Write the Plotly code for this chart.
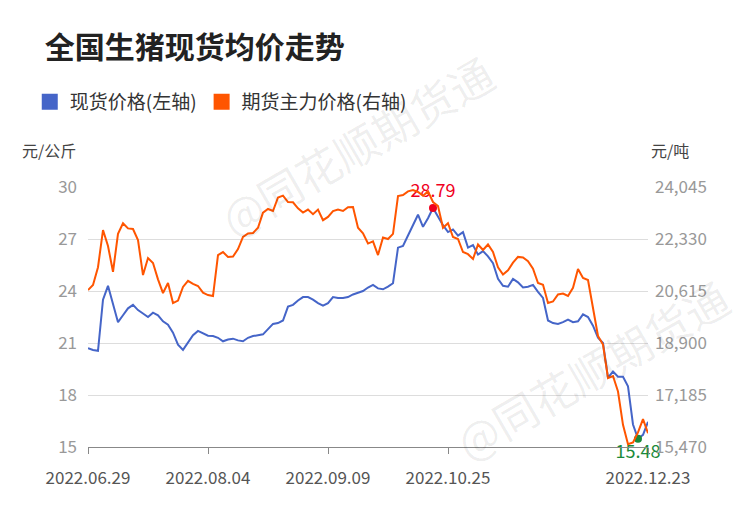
import plotly.graph_objects as go

tick_idx = [0, 24, 48, 72, 112]
tick_labels = ["2022.06.29", "2022.08.04", "2022.09.09", "2022.10.25", "2022.12.23"]

spot = [20.7, 20.6, 20.55, 23.5, 24.3, 23.2, 22.2, 22.6, 23.0, 23.2,
        22.9, 22.7, 22.5, 22.75, 22.6, 22.25, 22.05, 21.6, 20.9, 20.6,
        21.0, 21.45, 21.7, 21.55, 21.42, 21.4, 21.3, 21.1, 21.2, 21.25,
        21.15, 21.1, 21.3, 21.4, 21.45, 21.5, 21.8, 22.1, 22.15, 22.3,
        23.1, 23.2, 23.45, 23.65, 23.65, 23.5, 23.3, 23.15, 23.3, 23.65,
        23.6, 23.6, 23.65, 23.8, 23.9, 24.0, 24.2, 24.35, 24.15, 24.1,
        24.25, 24.45, 26.5, 26.6, 27.2, 27.8, 28.4, 27.7, 28.2, 28.79,
        28.3, 27.8, 27.4, 27.55, 27.2, 27.4, 26.5, 26.65, 26.1, 26.3,
        26.0, 25.6, 24.7, 24.3, 24.25, 24.7, 24.5, 24.2, 24.25, 24.35,
        23.95, 23.6, 22.3, 22.15, 22.1, 22.2, 22.35, 22.2, 22.25, 22.65,
        22.5, 22.0, 21.3, 21.0, 19.0, 19.35, 19.05, 19.05, 18.5, 16.3,
        15.48, 15.7, 16.45]

futures = [20646, 20811, 21400, 22626, 22100, 21250, 22500, 22850, 22680, 22660,
           22296, 21141, 21702, 21537, 21000, 20547, 20880, 20217, 20300, 20750,
           20950, 20850, 20780, 20560, 20480, 20448, 21800, 21900, 21735, 21750,
           22000, 22400, 22510, 22530, 22700, 23200, 23320, 23253, 23700, 23760,
           23550, 23540, 23340, 23200, 23300, 23150, 23300, 22950, 23060, 23250,
           23300, 23253, 23380, 23386, 22700, 22520, 22180, 22250, 21800, 22380,
           22330, 22500, 23748, 23781, 23900, 23946, 23880, 23760, 23900, 23550,
           23420, 22700, 22850, 22395, 22330, 21900, 21830, 21669, 22150, 21966,
           22150, 21900, 21400, 21160, 21300, 21550, 21740, 21720, 21600, 21350,
           20877, 20820, 20220, 20270, 20500, 20530, 20450, 20720, 21339, 21042,
           20976, 20000, 19130, 18850, 17742, 17810, 17300, 16200, 15560, 15620,
           15950, 16389, 15927]

x = list(range(len(spot)))
BLUE = "#4565C8"
ORANGE = "#FF5500"

fig = go.Figure()
fig.add_trace(go.Scatter(x=x, y=spot, mode="lines", line=dict(color=BLUE, width=2), showlegend=False))
fig.add_trace(go.Scatter(x=x, y=futures, mode="lines", line=dict(color=ORANGE, width=2), yaxis="y2", showlegend=False))
fig.add_trace(go.Scatter(x=[None], y=[None], mode="markers", name="现货价格(左轴)",
                         marker=dict(symbol="square", size=16, color=BLUE)))
fig.add_trace(go.Scatter(x=[None], y=[None], mode="markers", name="期货主力价格(右轴)",
                         marker=dict(symbol="square", size=16, color=ORANGE)))

imax = spot.index(max(spot))
imin = spot.index(min(spot))
fig.add_trace(go.Scatter(x=[imax], y=[spot[imax]], mode="markers+text", text=[f"{spot[imax]:.2f}"],
                         textposition="top center", textfont=dict(color="#F0001E", size=18),
                         marker=dict(color="#F0001E", size=8), showlegend=False, cliponaxis=False))
fig.add_trace(go.Scatter(x=[imin], y=[spot[imin]], mode="markers+text", text=[f"{spot[imin]:.2f}"],
                         textposition="bottom center", textfont=dict(color="#1A8A3A", size=18),
                         marker=dict(color="#1A8A3A", size=8), showlegend=False, cliponaxis=False))

for (ax, ay) in [(0.48, 1.16), (0.9, 0.3)]:
    fig.add_annotation(text="@同花顺期货通", xref="paper", yref="paper", x=ax, y=ay, showarrow=False,
                       xanchor="center", yanchor="middle",
                       textangle=-30, font=dict(size=44, color="rgba(0,0,0,0.07)"))

fig.update_layout(
    width=750, height=510,
    margin=dict(l=80, r=110, t=179, b=71, autoexpand=False),
    paper_bgcolor="white", plot_bgcolor="white",
    font=dict(family="Noto Sans CJK SC", color="#555"),
    title=dict(text="<b>全国生猪现货均价走势</b>", x=0.049, xanchor="left", y=0.922, yanchor="middle",
               font=dict(size=30, color="#222")),
    legend=dict(orientation="h", x=-0.104, y=1.327, xanchor="left", yanchor="middle",
                font=dict(size=19, color="#333"), itemwidth=30),
    xaxis=dict(range=[0, 112], tickvals=tick_idx, ticktext=tick_labels, showgrid=False,
               showline=True, linecolor="#888", ticks="outside", tickcolor="#888", ticklen=6,
               tickfont=dict(size=17, color="#555"), zeroline=False, automargin=False,
               ticklabelstandoff=10),
    yaxis=dict(range=[15, 30], tickvals=[15, 18, 21, 24, 27, 30], gridcolor="#DDD",
               tickfont=dict(size=17, color="#999"), zeroline=False, ticklabelstandoff=10, automargin=False),
    yaxis2=dict(range=[15470, 24045], tickvals=[15470, 17185, 18900, 20615, 22330, 24045],
                ticktext=["15,470", "17,185", "18,900", "20,615", "22,330", "24,045"],
                overlaying="y", side="right", showgrid=False, zeroline=False, automargin=False,
                tickfont=dict(size=17, color="#999"), ticklabelstandoff=6),
)
fig.add_annotation(text="元/公斤", xref="paper", yref="paper", x=-0.121, y=1.195, xanchor="left",
                   showarrow=False, font=dict(size=16, color="#444"))
fig.add_annotation(text="元/吨", xref="paper", yref="paper", x=1.002, y=1.195, xanchor="left",
                   showarrow=False, font=dict(size=16, color="#444"))

fig.write_html("out.html")
